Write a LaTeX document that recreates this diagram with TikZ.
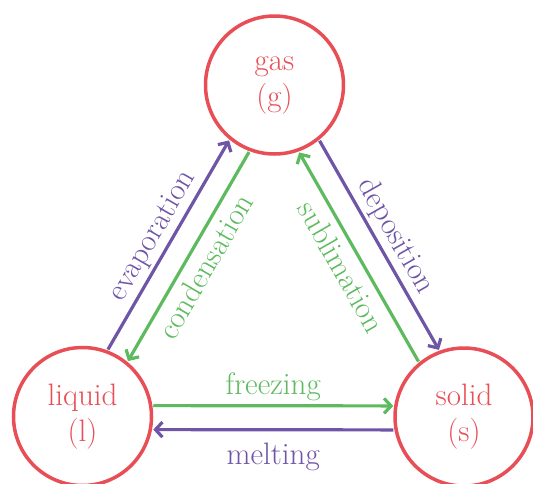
\documentclass[tikz,border=0pt]{standalone}
\usetikzlibrary{arrows.meta}
\definecolor{redc}{HTML}{E84E55}
\definecolor{purp}{HTML}{6E55A6}
\definecolor{grn}{HTML}{5DBA5E}
\begin{document}
\begin{tikzpicture}[x=1pt,y=1pt,
  phase/.style={circle, draw=redc, line width=3.5pt, minimum size=138pt, inner sep=0pt,
    text=redc, align=center, font=\fontsize{31}{36}\selectfont},
  conn/.style={line width=3.2pt, -{Straight Barb[length=7pt,width=15pt]}},
  lab/.style={font=\fontsize{31}{36}\selectfont, sloped, midway, inner sep=3pt}]
\useasboundingbox (0,0) rectangle (533,-483);
\node[phase] (gas) at (274.5,-85) {gas\\(g)};
\node[phase] (liq) at (82.5,-416.5) {liquid\\(l)};
\node[phase] (sol) at (464,-417) {solid\\(s)};
\draw[conn, purp, transform canvas={shift={(-10pt,5.8pt)}}] (liq) -- node[lab, above, text=purp] {evaporation} (gas);
\draw[conn, grn, transform canvas={shift={(10pt,-5.8pt)}}] (gas) -- node[lab, below=4pt, text=grn] {condensation} (liq);
\draw[conn, purp, transform canvas={shift={(10pt,5.7pt)}}] (gas) -- node[lab, above, text=purp] {deposition} (sol);
\draw[conn, grn, transform canvas={shift={(-10.4pt,-6pt)}}] (sol) -- node[lab, below=4pt, text=grn] {sublimation} (gas);
\draw[conn, grn, transform canvas={shift={(0pt,11pt)}}] (liq) -- node[lab, above, text=grn] {freezing} (sol);
\draw[conn, purp, transform canvas={shift={(0pt,-13pt)}}] (sol) -- node[lab, below=9pt, text=purp] {melting} (liq);
\end{tikzpicture}
\end{document}
